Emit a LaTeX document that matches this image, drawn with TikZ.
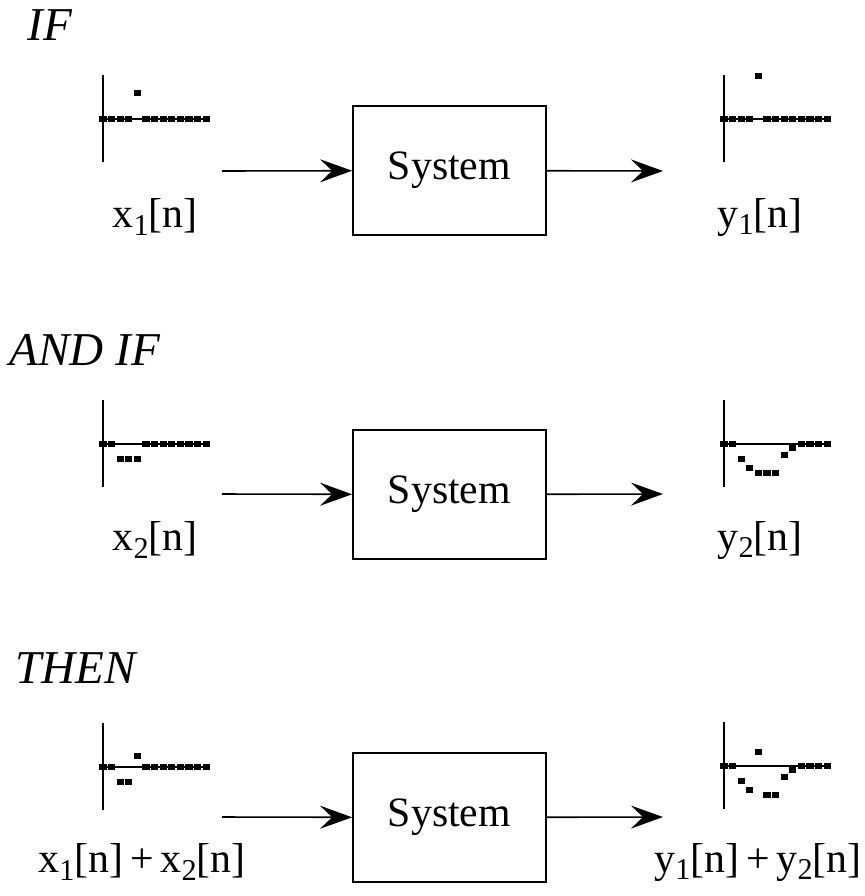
\documentclass[tikz,border=0pt]{standalone}
\usepackage{fontspec}
\setmainfont{Liberation Serif}
\usetikzlibrary{arrows.meta}
\newcommand{\subidx}[1]{\raisebox{-.4ex}{\fontsize{8.6}{9}\selectfont #1}}
% one discrete-time sequence: origin x, origin y, list of k/value
\newcommand{\seqplot}[3]{%
  \draw[ax] (#1,#2-44) -- (#1,#2+43);
  \draw[ax] (#1,#2) -- ++(107,0);
  \foreach \k/\v in {#3}
    \fill (#1+8.6*\k-3.6,#2-\v-3) rectangle ++(7.2,6);}

\begin{document}
\begin{tikzpicture}[x=0.1mm, y=-0.1mm, font=\fontsize{11.9}{14}\selectfont,
  >={Stealth[length=3.2mm,width=2.3mm,inset=1.2mm]},
  sys/.style={draw, line width=0.5pt, minimum width=19.3mm, minimum height=12.9mm, inner sep=0pt},
  sarr/.style={->, line width=0.45pt},
  ax/.style={line width=0.4pt},
  hd/.style={font=\fontsize{13.4}{16}\selectfont\itshape},
  lbl/.style={inner sep=0pt}]
  \useasboundingbox (0,0) rectangle (864,896);

  % IF
  \node[hd] (if) at (50,25) {IF};
  \seqplot{103}{119}{0/0,1/0,2/0,3/0,4/26,5/0,6/0,7/0,8/0,9/0,10/0,11/0,12/0}
  \seqplot{724}{119}{0/0,1/0,2/0,3/0,4/43,5/0,6/0,7/0,8/0,9/0,10/0,11/0,12/0}
  \node[sys] (sys1) at (449.5,170.5) {System};
  \coordinate (in1) at (222,171);
  \coordinate (out1) at (663,171);
  \draw[sarr] (in1) -- (sys1);
  \draw[sarr] (sys1) -- (out1);
  \node[lbl] (x1) at (155,217) {x\subidx{1}[n]};
  \node[lbl] (y1) at (760,217) {y\subidx{1}[n]};

  % AND IF
  \node[hd] (andif) at (85,350) {AND IF};
  \seqplot{103}{444}{0/0,1/0,2/-15,3/-15,4/-15,5/0,6/0,7/0,8/0,9/0,10/0,11/0,12/0}
  \seqplot{724}{444}{0/0,1/0,2/-15,3/-24,4/-29,5/-29,6/-29,7/-11,8/-4,9/0,10/0,11/0,12/0}
  \node[sys] (sys2) at (449.5,494.5) {System};
  \coordinate (in2) at (222,494);
  \coordinate (out2) at (663,494);
  \draw[sarr] (in2) -- (sys2);
  \draw[sarr] (sys2) -- (out2);
  \node[lbl] (x2) at (155,540) {x\subidx{2}[n]};
  \node[lbl] (y2) at (760,540) {y\subidx{2}[n]};

  % THEN
  \node[hd] (then) at (76,668) {THEN};
  \seqplot{103}{767}{0/0,1/0,2/-15,3/-15,4/11,5/0,6/0,7/0,8/0,9/0,10/0,11/0,12/0}
  \seqplot{724}{766}{0/0,1/0,2/-15,3/-24,4/14,5/-29,6/-29,7/-11,8/-4,9/0,10/0,11/0,12/0}
  \node[sys] (sys3) at (449.5,817.5) {System};
  \coordinate (in3) at (222,817);
  \coordinate (out3) at (663,817);
  \draw[sarr] (in3) -- (sys3);
  \draw[sarr] (sys3) -- (out3);
  \node[lbl] (x12) at (142,862) {x\subidx{1}[n]\,+\,x\subidx{2}[n]};
  \node[lbl] (y12) at (758,862) {y\subidx{1}[n]\,+\,y\subidx{2}[n]};
\end{tikzpicture}
\end{document}
